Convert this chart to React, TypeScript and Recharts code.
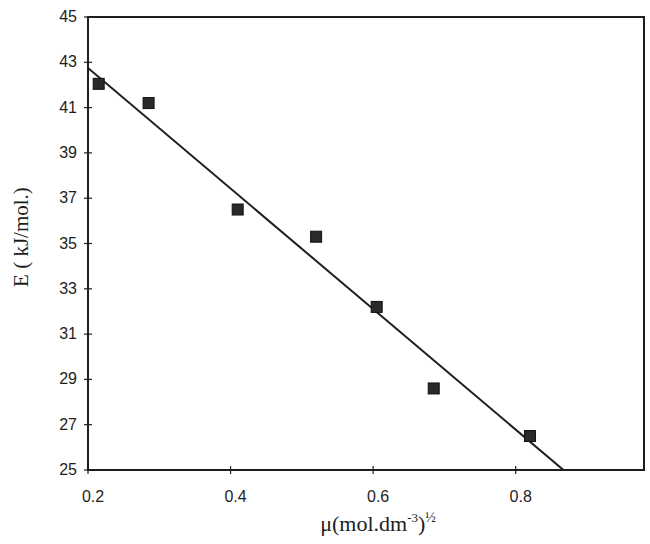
import React from 'react';
import { ScatterChart, Scatter, XAxis, YAxis, ReferenceArea, Label } from 'recharts';

// Measured points: ionic strength root vs activation energy
const muValues = [0.215, 0.285, 0.41, 0.52, 0.605, 0.685, 0.82];
const energyValues = [42.05, 41.2, 36.5, 35.3, 32.2, 28.6, 26.5];

// Fitted straight line end points
const fitMu = [0.2, 0.867];
const fitEnergy = [42.75, 25];

const xTicks = [0.2, 0.4, 0.6, 0.8];
const yTicks = [25, 27, 29, 31, 33, 35, 37, 39, 41, 43, 45];
const xDomain = [0.2, 0.98];
const yDomain = [25, 45];

const points = muValues.map((x, i) => ({ x, y: energyValues[i] }));
const fitLine = fitMu.map((x, i) => ({ x, y: fitEnergy[i] }));

const INK = '#1e1e1e';
const tickFont = '"Liberation Sans", Arial, sans-serif';
const titleFont = '"Liberation Serif", "Times New Roman", serif';

const YTick = (props: any) => {
  const { x, y, payload } = props;
  return (
    <g>
      <line x1={x - 4} x2={x + 4} y1={y} y2={y} stroke={INK} strokeWidth={1.2} />
      <text x={x - 11} y={y} dy={5} textAnchor="end" fontFamily={tickFont} fontSize={16} fill={INK}>
        {payload.value}
      </text>
    </g>
  );
};

const XTick = (props: any) => {
  const { x, y, payload } = props;
  return (
    <g>
      <line x1={x} x2={x} y1={y - 4} y2={y + 4} stroke={INK} strokeWidth={1.2} />
      <text x={x + 5} y={y + 32} textAnchor="middle" fontFamily={tickFont} fontSize={16} fill={INK}>
        {String(payload.value)}
      </text>
    </g>
  );
};

const SquareMarker = (props: any) => {
  const { cx, cy } = props;
  if (cx == null || cy == null) return <g />;
  return <rect x={cx - 5.5} y={cy - 5.5} width={11} height={11} fill="#2a2a2a" stroke="#111" strokeWidth={1} />;
};

const NoMarker = () => <g />;

export default function App() {
  return (
    <div style={{ position: 'absolute', left: 0, top: 0, width: 650, height: 544, background: '#fff' }}>
      <ScatterChart width={650} height={544} margin={{ top: 17, right: 6, bottom: 0, left: 0 }}>
        <XAxis
          type="number"
          dataKey="x"
          domain={xDomain}
          ticks={xTicks}
          allowDataOverflow
          height={74}
          tickSize={0}
          tickMargin={0}
          tickLine={false}
          axisLine={{ stroke: INK, strokeWidth: 2 }}
          tick={<XTick />}
        >
          <Label
            content={() => (
              <text x={378} y={531} textAnchor="middle" fontFamily={titleFont} fontSize={22} fill={INK}>
                μ(mol.dm
                <tspan dy={-9} fontSize={13}>-3</tspan>
                <tspan dy={9}>)</tspan>
                <tspan dy={-9} fontSize={14}>½</tspan>
              </text>
            )}
          />
        </XAxis>
        <YAxis
          type="number"
          dataKey="y"
          domain={yDomain}
          ticks={yTicks}
          allowDataOverflow
          width={88}
          tickSize={0}
          tickMargin={0}
          tickLine={false}
          axisLine={{ stroke: INK, strokeWidth: 2 }}
          tick={<YTick />}
        >
          <Label
            content={() => (
              <text
                x={28}
                y={237}
                transform="rotate(-90 28 237)"
                textAnchor="middle"
                fontFamily={titleFont}
                fontSize={21}
                fill={INK}
              >
                E ( kJ/mol.)
              </text>
            )}
          />
        </YAxis>
        <ReferenceArea
          x1={xDomain[0]}
          x2={xDomain[1]}
          y1={yDomain[0]}
          y2={yDomain[1]}
          fill="none"
          fillOpacity={0}
          stroke={INK}
          strokeWidth={2}
          ifOverflow="visible"
        />
        <Scatter
          data={fitLine}
          line={{ stroke: INK, strokeWidth: 2 }}
          shape={<NoMarker />}
          isAnimationActive={false}
          legendType="none"
        />
        <Scatter data={points} shape={<SquareMarker />} isAnimationActive={false} />
      </ScatterChart>
    </div>
  );
}
